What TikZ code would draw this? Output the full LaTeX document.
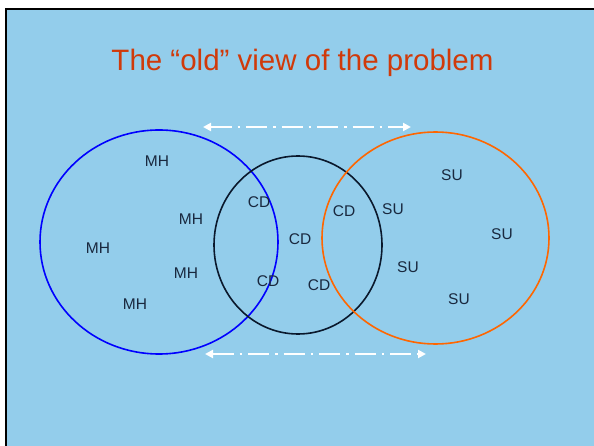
\documentclass[tikz,border=0pt]{standalone}
\usepackage{fontspec}
\setmainfont{Liberation Sans}
\usetikzlibrary{shapes.geometric,arrows.meta}
\definecolor{bg}{RGB}{147,205,235}
\definecolor{titlered}{RGB}{208,58,10}
\definecolor{lbl}{RGB}{25,40,62}
\definecolor{ringblue}{RGB}{0,0,255}
\definecolor{ringorange}{RGB}{255,102,0}
\definecolor{ringdark}{RGB}{10,24,44}
\tikzset{
  ring/.style={ellipse,draw,line width=1.6pt,inner sep=0pt,fill=none},
  tag/.style={text=lbl,font=\fontsize{15.5}{18}\selectfont,inner sep=0pt},
  spanarrow/.style={draw=white,line width=2.6pt,dash pattern=on 21pt off 6pt on 2.5pt off 6pt,
    {Triangle[length=8pt,width=8pt]}-{Triangle[length=8pt,width=8pt]}}
}
\begin{document}
\begin{tikzpicture}[x=1pt,y=-1pt]
\useasboundingbox (0,0) rectangle (594,446);
\fill[white] (0,0) rectangle (594,446);
\fill[bg] (6,9) rectangle (594,446);
\draw[black,line width=2pt] (6,446) -- (6,9) -- (594,9);
\node[text=titlered,font=\fontsize{29.5}{34}\selectfont,inner sep=0pt,anchor=base] (title) at (302.5,71) {The “old” view of the problem};
% rings
\node[ring,draw=ringblue,minimum width=238pt,minimum height=224pt] (mh) at (159,242) {};
\node[ring,draw=ringdark,minimum width=168pt,minimum height=178pt] (cd) at (298,245) {};
\node[ring,draw=ringorange,minimum width=227pt,minimum height=212pt] (su) at (435.5,238) {};
% arrows
\coordinate (a1) at (203,127);
\coordinate (b1) at (411,127);
\coordinate (a2) at (205,354);
\coordinate (b2) at (426,354);
\draw[spanarrow] (a1) -- (b1);
\draw[spanarrow] (a2) -- (b2);
% labels
\node[tag] (mh1) at (157,161) {MH};
\node[tag] (mh2) at (191,219) {MH};
\node[tag] (mh3) at (98,248) {MH};
\node[tag] (mh4) at (186,273) {MH};
\node[tag] (mh5) at (135,304) {MH};
\node[tag] (cd1) at (259,202) {CD};
\node[tag] (cd2) at (300,239) {CD};
\node[tag] (cd3) at (344,211) {CD};
\node[tag] (cd4) at (268,281) {CD};
\node[tag] (cd5) at (319,285) {CD};
\node[tag] (su1) at (452,175) {SU};
\node[tag] (su2) at (393,209) {SU};
\node[tag] (su3) at (502,234) {SU};
\node[tag] (su4) at (408,267) {SU};
\node[tag] (su5) at (459,299) {SU};
\end{tikzpicture}
\end{document}
